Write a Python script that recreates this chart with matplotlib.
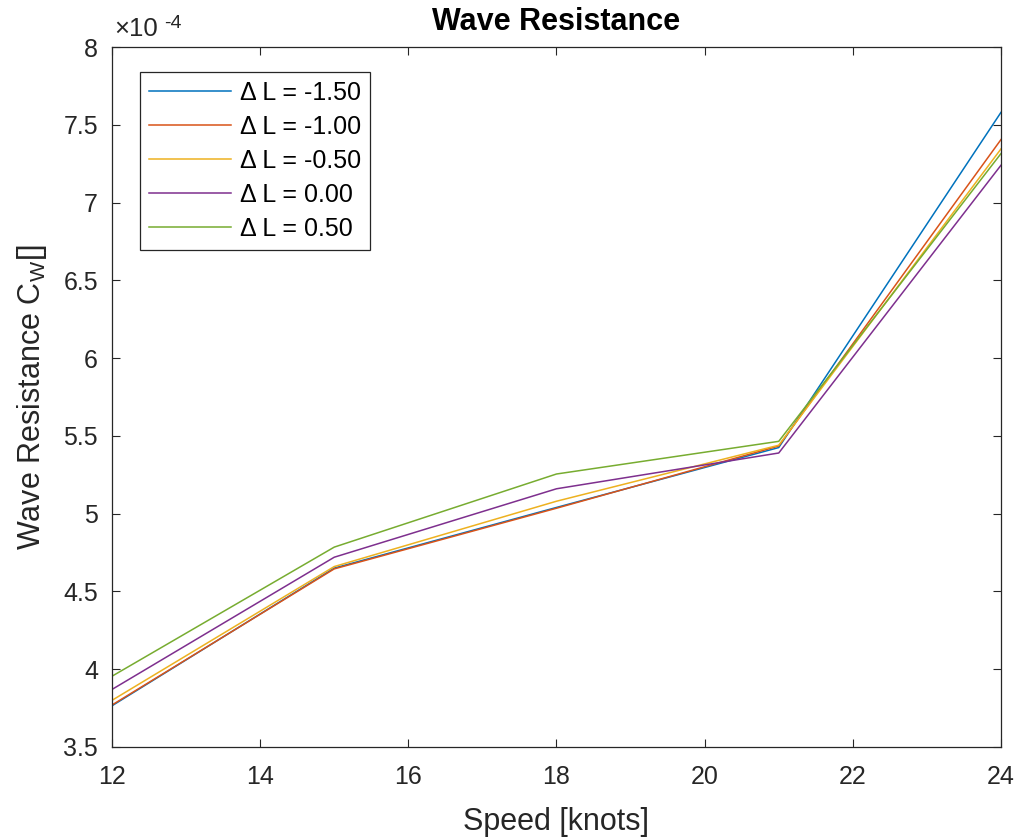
import matplotlib
matplotlib.use("Agg")
import matplotlib.pyplot as plt
from matplotlib.ticker import FuncFormatter, FixedLocator

plt.rcParams['font.family'] = ['Liberation Sans', 'DejaVu Sans']

speed = [12, 15, 18, 21, 24]
delta_labels = ["\u0394 L = -1.50", "\u0394 L = -1.00", "\u0394 L = -0.50",
                "\u0394 L = 0.00", "\u0394 L = 0.50"]
cw_m150 = [3.765e-4, 4.650e-4, 5.040e-4, 5.425e-4, 7.580e-4]
cw_m100 = [3.770e-4, 4.645e-4, 5.035e-4, 5.435e-4, 7.405e-4]
cw_m050 = [3.800e-4, 4.660e-4, 5.080e-4, 5.440e-4, 7.345e-4]
cw_000 = [3.870e-4, 4.720e-4, 5.160e-4, 5.390e-4, 7.240e-4]
cw_p050 = [3.955e-4, 4.785e-4, 5.255e-4, 5.465e-4, 7.315e-4]
series = [cw_m150, cw_m100, cw_m050, cw_000, cw_p050]
colors = ["#0072BD", "#D95319", "#EDB120", "#7E2F8E", "#77AC30"]

fig = plt.figure(figsize=(10.21, 8.38), dpi=100)
ax = fig.add_axes([0.1097, 0.1086, 0.8707, 0.8353])

for vals, lab, col in zip(series, delta_labels, colors):
    ax.plot(speed, vals, color=col, lw=1.1, label=lab)

ax.set_xlim(12, 24)
ax.set_ylim(3.5e-4, 8e-4)
ax.xaxis.set_major_locator(FixedLocator([12, 14, 16, 18, 20, 22, 24]))
ax.yaxis.set_major_locator(FixedLocator([v * 1e-4 for v in
                                         [3.5, 4, 4.5, 5, 5.5, 6, 6.5, 7, 7.5, 8]]))
ax.yaxis.set_major_formatter(FuncFormatter(lambda v, p: "%g" % round(v * 1e4, 3)))

tick_col = "#262626"
ax.tick_params(direction="in", length=6, width=0.8, labelsize=18,
               colors=tick_col, top=True, right=True)
ax.tick_params(axis="y", pad=10)
ax.tick_params(axis="x", pad=13)
for s in ax.spines.values():
    s.set_color(tick_col)
    s.set_linewidth(0.9)

# exponent shared by the y tick labels
ax.text(0.002, 1.008, "\u00d710", transform=ax.transAxes, fontsize=18.5,
        color=tick_col, ha="left", va="bottom")
ax.text(0.059, 1.021, "-4", transform=ax.transAxes, fontsize=14,
        color=tick_col, ha="left", va="bottom")

ax.set_title("Wave Resistance", fontsize=22, fontweight="bold", pad=12)
ax.set_xlabel("Speed [knots]", fontsize=22, color=tick_col, labelpad=13)
ax.set_ylabel("Wave Resistance C$_\\mathregular{W}$[]", fontsize=22,
              color=tick_col, labelpad=10)

leg = ax.legend(loc="upper left", bbox_to_anchor=(0.0315, 0.964), fontsize=18,
                frameon=True, fancybox=False, framealpha=1, edgecolor=tick_col,
                handlelength=3.3, handletextpad=0.35, borderpad=0.35,
                labelspacing=0.40, borderaxespad=0)
leg.get_frame().set_linewidth(0.9)

fig.savefig("out.png", dpi=100)
